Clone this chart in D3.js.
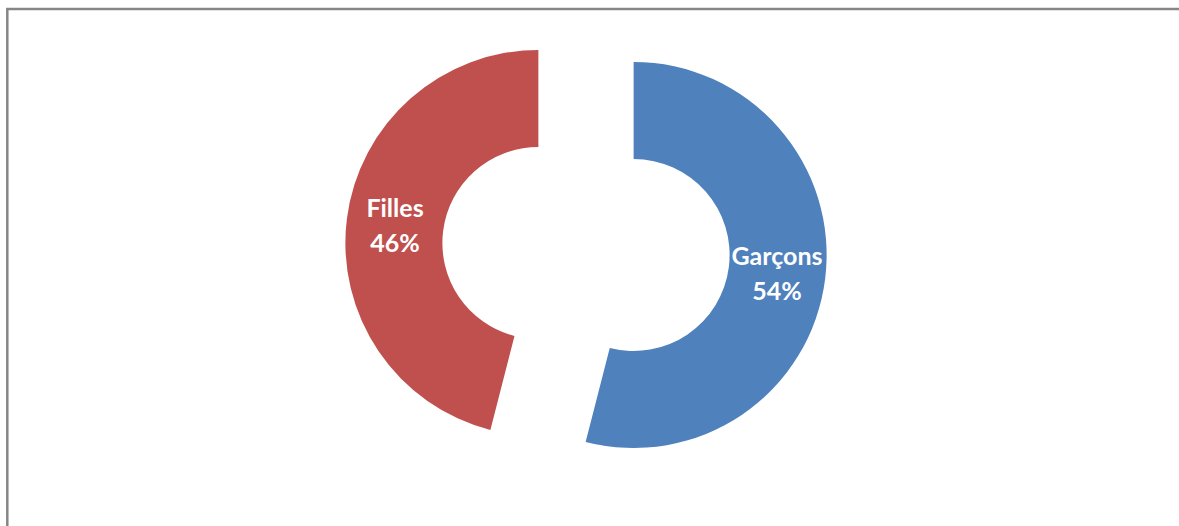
<!DOCTYPE html>
<meta charset="utf-8">
<html>
  <head>
    <title>donut</title>
    <script src="https://d3js.org/d3.v7.min.js"></script>
    <style>
      body { margin: 0; background: #fff; }
    </style>
  </head>
  <body>
    <div id="chart"></div>
    <script type="text/javascript">
        /* data */
        var categories = ["Garçons", "Filles"];
        var values = [54, 46];
        var labels = ["54%", "46%"];
        var colors = ["#4F81BD", "#C0504D"];

        /* layout */
        var total_width = 1179,
            total_height = 526,
            center = {x: 586, y: 249},
            outer_r = 193,
            inner_r = 96,
            explode = 48;

        var svg = d3.select("#chart").append("svg")
                .attr("width", total_width)
                .attr("height", total_height);

        /* chart frame (only top and left edges visible) */
        svg.append("rect")
            .attr("x", 7.3)
            .attr("y", 9)
            .attr("width", 1300)
            .attr("height", 600)
            .attr("fill", "none")
            .attr("stroke", "#868686")
            .attr("stroke-width", 2.5);

        var pie = d3.pie().sort(null).value(function(d){ return d; });
        var arc = d3.arc().innerRadius(inner_r).outerRadius(outer_r);
        var arcs = pie(values);

        var g = svg.append("g")
            .attr("transform", "translate(" + center.x + "," + center.y + ")");

        var slices = g.selectAll(".slice")
            .data(arcs)
            .enter().append("g")
            .attr("class", "slice")
            .attr("transform", function(d){
                var mid = (d.startAngle + d.endAngle) / 2;
                return "translate(" + (Math.sin(mid) * explode) + "," + (-Math.cos(mid) * explode) + ")";
            });

        slices.append("path")
            .attr("d", arc)
            .attr("fill", function(d, i){ return colors[i]; });

        var text = slices.append("text")
            .attr("transform", function(d){ return "translate(" + arc.centroid(d) + ")"; })
            .attr("text-anchor", "middle")
            .attr("fill", "white")
            .style("font-family", "Lato, 'Open Sans', sans-serif")
            .style("font-weight", "bold")
            .style("font-size", "25px");

        text.append("tspan")
            .attr("x", 0)
            .attr("y", -8)
            .text(function(d, i){ return categories[i]; });
        text.append("tspan")
            .attr("x", 0)
            .attr("y", 27)
            .text(function(d, i){ return labels[i]; });
    </script>
  </body>
</html>
